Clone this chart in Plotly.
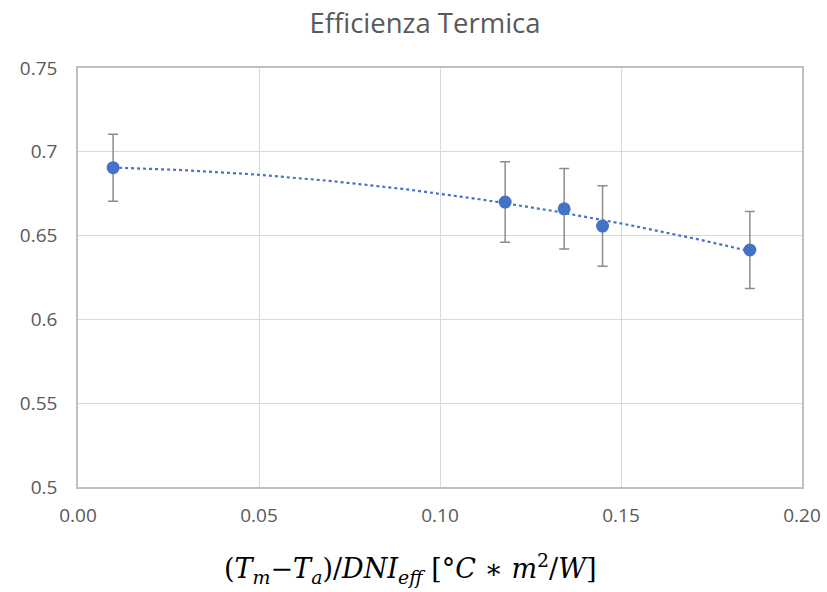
import numpy as np
import plotly.graph_objects as go

x_vals = [0.0097, 0.118, 0.1343, 0.1449, 0.1856]
y_vals = [0.6905, 0.6700, 0.6660, 0.6557, 0.6414]
err_vals = [0.020, 0.024, 0.024, 0.024, 0.023]

x_ticks = [0.0, 0.05, 0.10, 0.15, 0.20]
y_ticks = [0.5, 0.55, 0.6, 0.65, 0.7, 0.75]

# Excel-style polynomial (order 2) trendline fitted to the data
coef = np.polyfit(x_vals, y_vals, 2)
xt = np.linspace(min(x_vals), max(x_vals), 100)
yt = np.polyval(coef, xt)

blue = "#4472C4"
fig = go.Figure()
fig.add_trace(go.Scatter(x=xt, y=yt, mode="lines",
                         line=dict(color=blue, width=2.2, dash="dot"),
                         hoverinfo="skip", showlegend=False))
fig.add_trace(go.Scatter(x=x_vals, y=y_vals, mode="markers",
                         marker=dict(color=blue, size=13),
                         error_y=dict(type="data", array=err_vals, visible=True,
                                      color="#8c8c8c", thickness=1.5, width=5),
                         showlegend=False))

x_title = ("(<i>T</i><sub><i>m</i></sub>−<i>T</i><sub><i>a</i></sub>)/<i>DNI</i><sub><i>eff</i></sub>"
           " [°<i>C</i> ∗ <i>m</i><sup>2</sup>/<i>W</i>]")

fig.add_annotation(text=x_title, xref="paper", yref="paper", x=0.459, y=0,
                   xanchor="center", yanchor="middle", yshift=-81, showarrow=False,
                   font=dict(family="DejaVu Serif", size=27, color="black"))

fig.update_layout(
    width=827, height=592,
    margin=dict(l=78, r=25, t=68, b=105),
    paper_bgcolor="white", plot_bgcolor="white",
    title=dict(text="Efficienza Termica", x=425 / 827, xanchor="center",
               y=1 - 23 / 592, yanchor="middle",
               font=dict(family="Open Sans", size=27.5, color="#595959")),
    font=dict(family="Open Sans", color="#595959"),
    xaxis=dict(range=[0, 0.2], tickvals=x_ticks, tickformat=".2f",
               showgrid=True, gridcolor="#d9d9d9", gridwidth=1,
               showline=True, linecolor="#bfbfbf", linewidth=1.5, mirror=True,
               ticks="", tickfont=dict(size=19, color="#595959"), ticklabelstandoff=10,
               automargin=False, zeroline=False),
    yaxis=dict(range=[0.5, 0.75], tickvals=y_ticks,
               showgrid=True, gridcolor="#d9d9d9", gridwidth=1,
               showline=True, linecolor="#bfbfbf", linewidth=1.5, mirror=True,
               ticks="", tickfont=dict(size=19, color="#595959"), ticklabelstandoff=15,
               automargin=False, zeroline=False),
)

fig.write_html("out.html", config={"displayModeBar": False},
               post_script="document.body.style.margin='0';")
